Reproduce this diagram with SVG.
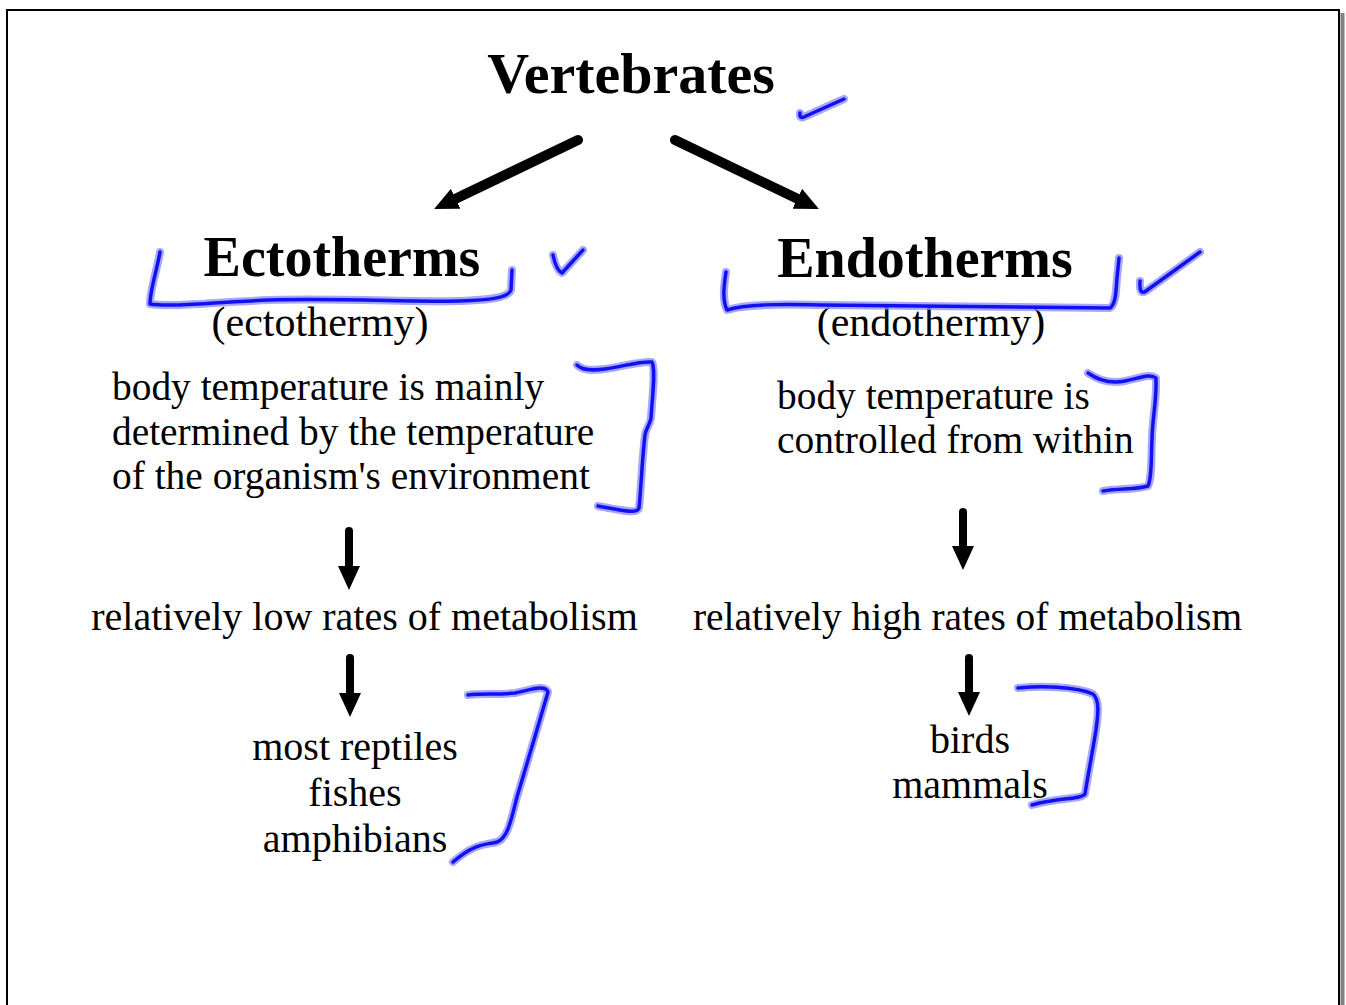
<svg xmlns="http://www.w3.org/2000/svg" width="1346" height="1005" viewBox="0 0 1346 1005">
  <style>
    text { font-family: "Liberation Serif", "Times New Roman", serif; fill: #000; }
    .title { font-size: 56px; font-weight: bold; }
    .head { font-size: 58px; font-weight: bold; }
    .sub { font-size: 42px; }
    .body { font-size: 40px; }
    .def { font-size: 39.4px; }
    .mid { text-anchor: middle; }
    .arrow { stroke: #000; fill: none; stroke-linecap: round; }
    .ink-halo { fill: none; stroke: #8a8aff; stroke-width: 8; stroke-linecap: round; stroke-linejoin: round; opacity: 0.75; }
    .ink { fill: none; stroke: #1010f0; stroke-width: 3.5; stroke-linecap: round; stroke-linejoin: round; }
  </style>
  <defs>
    <marker id="head" viewBox="0 0 24 22" refX="3" refY="11" markerWidth="24" markerHeight="22" markerUnits="userSpaceOnUse" orient="auto">
      <path d="M0,0 L24,11 L0,22 z" fill="#000"/>
    </marker>
    <g id="pen-strokes">
      <path d="M800,113 Q799,120 806,116 L844,99"/>
      <path d="M160,252 C157,270 150,290 150,304 C170,307 200,303 270,300 C330,298 420,302 460,301 C490,300 508,298 511,290 L512,270"/>
      <path d="M553,255 Q556,270 562,273 Q572,262 583,250"/>
      <path d="M726,272 C724,285 722,300 727,310 C745,304 780,304 820,305 C900,306 1000,307 1110,308 C1116,304 1116,290 1117,278 L1119,258"/>
      <path d="M1140,281 Q1139,296 1146,291 L1200,252"/>
      <path d="M577,365 C582,370 590,371 605,369 C625,366 640,361 652,362 C656,370 652,400 651,418 C650,425 646,428 645,435 C642,460 641,490 639,508 C637,514 625,511 598,506"/>
      <path d="M1088,373 C1098,380 1110,384 1125,381 C1140,378 1150,373 1156,378 C1157,400 1152,420 1152,440 C1151,460 1152,478 1148,486 C1135,490 1120,488 1103,491"/>
      <path d="M468,695 C480,693 500,695 515,693 C530,690 545,684 548,692 C540,720 525,770 517,797 C511,820 508,838 497,842 C485,845 475,843 453,862"/>
      <path d="M1018,688 C1040,686 1075,686 1093,694 C1100,700 1098,715 1096,730 C1092,755 1088,775 1085,794 C1080,800 1060,797 1032,805"/>
    </g>
  </defs>

  <rect width="1346" height="1005" fill="#fff"/>

  <!-- page frame with drop shadow on the right -->
  <rect x="1340.5" y="13" width="4" height="992" fill="#808080"/>
  <path d="M7,1005 L7,10 L1339,10 L1339,1005" fill="none" stroke="#000" stroke-width="2"/>

  <g id="vertebrates">
    <text class="head mid" x="631" y="93">Vertebrates</text>
  </g>

  <g id="ectotherms">
    <text class="title mid" x="342" y="276">Ectotherms</text>
    <text class="sub mid" x="320" y="336">(ectothermy)</text>
  </g>

  <g id="endotherms">
    <text class="title mid" x="925" y="277">Endotherms</text>
    <text class="sub mid" x="931" y="336">(endothermy)</text>
  </g>

  <g id="ecto-definition">
    <text class="def" x="112" y="400">body temperature is mainly</text>
    <text class="def" x="112" y="445">determined by the temperature</text>
    <text class="def" x="112" y="489">of the organism's environment</text>
  </g>

  <g id="endo-definition">
    <text class="def" x="777" y="409">body temperature is</text>
    <text class="def" x="777" y="453">controlled from within</text>
  </g>

  <g id="low-metabolism">
    <text class="body mid" x="364.5" y="630">relatively low rates of metabolism</text>
  </g>

  <g id="high-metabolism">
    <text class="def mid" x="967.5" y="630">relatively high rates of metabolism</text>
  </g>

  <g id="ecto-examples">
    <text class="body mid" x="355" y="760">most reptiles</text>
    <text class="body mid" x="355" y="806">fishes</text>
    <text class="body mid" x="355" y="852">amphibians</text>
  </g>

  <g id="endo-examples">
    <text class="body mid" x="970" y="753">birds</text>
    <text class="body mid" x="970" y="798">mammals</text>
  </g>

  <g id="connectors">
    <line class="arrow" x1="578" y1="140" x2="453" y2="200" stroke-width="10" marker-end="url(#head)"/>
    <line class="arrow" x1="675" y1="140" x2="800" y2="200" stroke-width="10" marker-end="url(#head)"/>
    <line class="arrow" x1="349" y1="531" x2="349" y2="569" stroke-width="8" marker-end="url(#head)"/>
    <line class="arrow" x1="350" y1="658" x2="350" y2="696" stroke-width="8" marker-end="url(#head)"/>
    <line class="arrow" x1="963" y1="512" x2="963" y2="549" stroke-width="8" marker-end="url(#head)"/>
    <line class="arrow" x1="969" y1="658" x2="969" y2="695" stroke-width="8" marker-end="url(#head)"/>
  </g>

  <!-- handwritten pen marks: soft halo under a solid core -->
  <g id="annotations">
    <use href="#pen-strokes" class="ink-halo"/>
    <use href="#pen-strokes" class="ink"/>
  </g>
</svg>
